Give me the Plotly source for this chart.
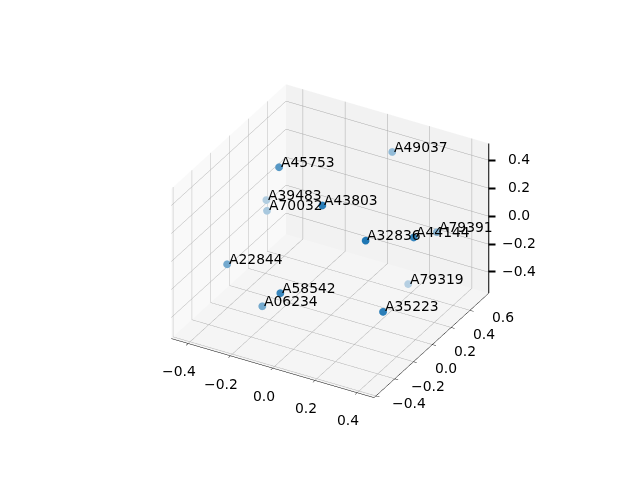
import numpy as np
import plotly.graph_objects as go

labels = ["A45753","A49037","A39483","A70032","A43803","A32836","A44144","A79391","A79319","A35223","A58542","A06234","A22844"]
xs = [-0.185,0.101,-0.372,-0.337,0.113,0.333,0.465,0.378,0.249,0.458,0.027,-0.142,-0.32]
ys = [0.063,0.624,0.348,0.276,-0.146,-0.18,0.034,0.476,0.461,-0.276,-0.40,-0.212,-0.186]
zs = [0.509,0.401,0.018,0.001,0.495,0.361,0.311,0.04,-0.378,-0.034,-0.014,-0.297,-0.091]
x_ticks = [-0.4,-0.2,0.0,0.2,0.4]
y_ticks = [-0.4,-0.2,0.0,0.2,0.4,0.6]
z_ticks = [-0.4,-0.2,0.0,0.2,0.4]
x_lim = [-0.48,0.48]
y_lim = [-0.42,0.8]
z_lim = [-0.55,0.52]

X, Y, Z = map(np.array, (xs, ys, zs))
depth = 0.433*X - 0.75*Y + 0.5*Z
alpha = 0.3 + 0.7*(depth-depth.min())/(depth.max()-depth.min())
base = np.array([31,119,180])
colors = [f"rgb({a*base[0]+(1-a)*245:.0f},{a*base[1]+(1-a)*245:.0f},{a*base[2]+(1-a)*245:.0f})" for a in alpha]

font = dict(family="DejaVu Sans", size=13.9, color="black")
fmt = lambda t: f"{t:.1f}".replace("-","\u2212")

def axis(ticks, lim, bg, line=True):
    return dict(range=lim, tickmode="array", tickvals=ticks, showticklabels=False,
                title=dict(text=""), showgrid=True, gridcolor="rgb(170,170,170)", gridwidth=1,
                showbackground=True, backgroundcolor=bg, showline=line, linecolor="black", linewidth=1,
                ticks="outside" if line else "", ticklen=4, tickcolor="black", zeroline=False, showspikes=False)

def note(x, y, z, text, dx, dy, anchor="center"):
    return dict(x=x, y=y, z=z, text=text, showarrow=False, font=font, xanchor=anchor, yanchor="middle", xshift=dx, yshift=dy)

notes = [note(a,b,c,t,0,5,"left") for a,b,c,t in zip(xs,ys,zs,labels)]
notes += [note(t,y_lim[0],z_lim[0],fmt(t),-9,-28) for t in x_ticks]
notes += [note(x_lim[1],t,z_lim[0],fmt(t),33,-7) for t in y_ticks]
notes += [note(x_lim[1],y_lim[1],t,fmt(t),30,1) for t in z_ticks]
notes += [dict(x=x_lim[1],y=y_lim[1],z=t,text=" ",showarrow=False,xshift=3,yshift=0,width=6,height=1,borderpad=0,bgcolor="black",font=dict(size=1)) for t in z_ticks]

traces = [go.Scatter3d(x=xs, y=ys, z=zs, mode="markers", marker=dict(size=4.5, color=colors, line=dict(width=0)), hoverinfo="skip")]
traces.append(go.Scatter3d(x=[x_lim[1],x_lim[1]], y=[y_lim[1],y_lim[1]], z=z_lim, mode="lines", line=dict(color="black",width=2), hoverinfo="skip"))

fig = go.Figure(traces)
r = 1.6
fig.update_layout(width=640, height=480, margin=dict(l=0,r=0,t=0,b=0), paper_bgcolor="white", showlegend=False,
    scene=dict(domain=dict(x=[0.006,1],y=[0.03,1]),
        xaxis=axis(x_ticks,x_lim,"rgb(249,249,249)"), yaxis=axis(y_ticks,y_lim,"rgb(242,242,242)"), zaxis=axis(z_ticks,z_lim,"rgb(245,245,245)",False),
        aspectmode="manual", aspectratio=dict(x=1,y=1,z=0.75), annotations=notes,
        camera=dict(eye=dict(x=r*0.422,y=r*-0.746,z=r*0.515), projection=dict(type="orthographic"), center=dict(x=0,y=0,z=0), up=dict(x=0,y=0,z=1))))
fig.write_html("out.html")
